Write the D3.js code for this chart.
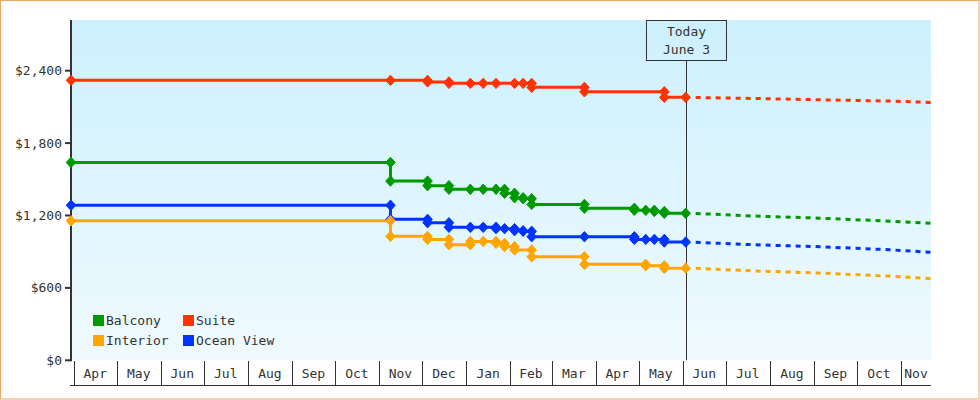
<!DOCTYPE html>
<html><head><meta charset="utf-8">
<script src="https://cdn.jsdelivr.net/npm/d3@7"></script>
<style>
html,body{margin:0;padding:0;background:#fff;}
svg{display:block;font-family:"DejaVu Sans Mono",monospace;}
</style></head><body>
<svg id="chart" width="980" height="400"></svg>
<script>
// ---- data ----
const seriesNames = ["Balcony", "Suite", "Interior", "Ocean View"];
const seriesColors = ["#009900", "#ff3300", "#ffa500", "#0033ff"];
const yTicks = [0, 600, 1200, 1800, 2400];
const todayDate = "2024-06-03";
const todayLabel = ["Today", "June 3"];

const balconyDates = ["2023-03-30","2023-11-09","2023-12-05","2023-12-20","2024-01-04","2024-01-13","2024-01-22","2024-01-28","2024-02-04","2024-02-10","2024-02-16","2024-03-24","2024-04-28","2024-05-06","2024-05-12","2024-05-19","2024-06-03"];
const balconyPrices = [1640,1485,1447,1417,1417,1417,1417,1384,1347,1339,1292,1260,1243,1243,1233,1218,1218];

const suiteDates = ["2023-03-30","2023-11-09","2023-12-05","2023-12-20","2024-01-04","2024-01-13","2024-01-22","2024-02-04","2024-02-10","2024-02-16","2024-03-24","2024-05-19","2024-06-03"];
const suitePrices = [2320,2320,2307,2295,2295,2295,2295,2295,2295,2262,2225,2179,2179];

const interiorDates = ["2023-03-30","2023-11-09","2023-12-05","2023-12-20","2024-01-04","2024-01-13","2024-01-22","2024-01-28","2024-02-04","2024-02-16","2024-03-24","2024-05-06","2024-05-19","2024-06-03"];
const interiorPrices = [1156,1027,1002,957,985,985,969,942,914,858,795,783,763,763];

const oceanDates = ["2023-03-30","2023-11-09","2023-12-05","2023-12-20","2024-01-04","2024-01-13","2024-01-22","2024-01-28","2024-02-04","2024-02-10","2024-02-16","2024-03-24","2024-04-28","2024-05-06","2024-05-12","2024-05-19","2024-06-03"];
const oceanPrices = [1285,1168,1140,1102,1102,1102,1091,1091,1074,1069,1024,1024,1002,1002,1002,980,980];

const forecastDates = ["2024-06-10","2024-07-20","2024-09-05","2024-10-24","2024-11-22"];
const balconyForecast = [1217,1196,1178,1153,1135];
const suiteForecast = [2178,2170,2159,2148,2137];
const interiorForecast = [762,741,723,698,676];
const oceanForecast = [978,958,941,916,895];

// ---- build ----
const parse = d3.utcParse("%Y-%m-%d");
const series = [
  {dates: balconyDates, prices: balconyPrices, fc: balconyForecast},
  {dates: suiteDates, prices: suitePrices, fc: suiteForecast},
  {dates: interiorDates, prices: interiorPrices, fc: interiorForecast},
  {dates: oceanDates, prices: oceanPrices, fc: oceanForecast}
].map((s, i) => ({
  name: seriesNames[i], color: seriesColors[i],
  pts: s.dates.map((d, j) => ({date: parse(d), v: s.prices[j]})),
  fcPts: forecastDates.map((d, j) => ({date: parse(d), v: s.fc[j]}))
}));

const svg = d3.select("#chart");
const pLeft = 71, pRight = 931, pTop = 20, pBottom = 360.3;
const x = d3.scaleUtc().domain([parse("2023-03-30"), parse("2024-11-22")]).range([pLeft, pRight]);
const y = d3.scaleLinear().domain([0, 2820]).range([pBottom, pTop]);

// outer border
svg.append("rect").attr("x", 0.5).attr("y", 0.5).attr("width", 978.5).attr("height", 398.5)
  .attr("fill", "#fff").attr("stroke", "#eaa862").attr("stroke-width", 1);

// background gradient
const defs = svg.append("defs");
const grad = defs.append("linearGradient").attr("id", "bg").attr("x1", 0).attr("y1", 0).attr("x2", 0).attr("y2", 1);
grad.append("stop").attr("offset", "0%").attr("stop-color", "#ccf0fd");
grad.append("stop").attr("offset", "100%").attr("stop-color", "#f0fafe");
defs.append("clipPath").attr("id", "clip").append("rect")
  .attr("x", pLeft).attr("y", pTop).attr("width", pRight - pLeft).attr("height", pBottom - pTop);
svg.append("rect").attr("x", pLeft).attr("y", pTop).attr("width", pRight - pLeft).attr("height", pBottom - pTop)
  .attr("fill", "url(#bg)");

// y axis
const axisColor = "#333";
svg.append("line").attr("x1", pLeft).attr("x2", pLeft).attr("y1", pTop).attr("y2", pBottom + 1)
  .attr("stroke", axisColor).attr("stroke-width", 2);
const yt = svg.append("g").selectAll("g").data(yTicks).join("g");
yt.append("line").attr("x1", 65).attr("x2", pLeft).attr("y1", d => y(d)).attr("y2", d => y(d))
  .attr("stroke", axisColor).attr("stroke-width", 2);
const fmt = d3.format("$,");
yt.append("text").attr("x", 62).attr("y", d => y(d)).attr("dy", "0.35em").attr("text-anchor", "end")
  .attr("font-size", 13).attr("fill", axisColor).text(d => fmt(d));

// x axis: month cells
const months = d3.utcMonth.range(d3.utcMonth.ceil(x.domain()[0]), x.domain()[1]);
const mfmt = d3.utcFormat("%b");
const xa = svg.append("g");
xa.append("line").attr("x1", 70).attr("x2", pRight).attr("y1", 385.5).attr("y2", 385.5)
  .attr("stroke", axisColor).attr("stroke-width", 1);
xa.selectAll("line.m").data(months).join("line").attr("class", "m")
  .attr("x1", d => Math.round(x(d)) + 0.5).attr("x2", d => Math.round(x(d)) + 0.5)
  .attr("y1", 361).attr("y2", 385.5).attr("stroke", axisColor).attr("stroke-width", 1);
xa.selectAll("text").data(months).join("text")
  .attr("x", d => (x(d) + Math.min(pRight, x(d3.utcMonth.offset(d, 1)))) / 2)
  .attr("y", 378).attr("text-anchor", "middle").attr("font-size", 13).attr("fill", axisColor)
  .text(d => mfmt(d));

// today marker
const tx = Math.round(x(parse(todayDate))) + 0.5;
svg.append("line").attr("x1", tx).attr("x2", tx).attr("y1", 61).attr("y2", pBottom)
  .attr("stroke", axisColor).attr("stroke-width", 1);
svg.append("rect").attr("x", 646.5).attr("y", 20.5).attr("width", 80).attr("height", 40)
  .attr("fill", "none").attr("stroke", axisColor).attr("stroke-width", 1);
svg.append("text").attr("x", tx).attr("y", 36).attr("text-anchor", "middle").attr("font-size", 13)
  .attr("fill", axisColor).text(todayLabel[0]);
svg.append("text").attr("x", tx).attr("y", 54).attr("text-anchor", "middle").attr("font-size", 13)
  .attr("fill", axisColor).text(todayLabel[1]);

// lines
const plot = svg.append("g").attr("clip-path", "url(#clip)");
const line = d3.line().x(d => x(d.date)).y(d => y(d.v)).curve(d3.curveStepAfter);
const fline = d3.line().x(d => x(d.date)).y(d => y(d.v));
const diamond = "M0,-5.2L4.8,0L0,5.2L-4.8,0Z";
const order = [1, 0, 3, 2];
order.forEach(i => {
  const s = series[i];
  plot.append("path").attr("d", fline(s.fcPts)).attr("fill", "none").attr("stroke", s.color)
    .attr("stroke-width", 3).attr("stroke-dasharray", "5,5");
});
order.forEach(i => {
  const s = series[i];
  plot.append("path").attr("d", line(s.pts)).attr("fill", "none").attr("stroke", s.color)
    .attr("stroke-width", 3);
  const marks = [];
  s.pts.forEach((p, j) => {
    if (j > 0 && s.pts[j - 1].v !== p.v) marks.push({date: p.date, v: s.pts[j - 1].v});
    marks.push(p);
  });
  svg.append("g").selectAll("path").data(marks).join("path")
    .attr("d", diamond).attr("fill", s.color).attr("stroke", s.color).attr("stroke-width", 1)
    .attr("stroke-linejoin", "round")
    .attr("transform", d => `translate(${x(d.date)},${y(d.v)})`);
});

// legend
const legendPos = [[93, 315], [183, 315], [93, 335], [183, 335]];
const lg = svg.append("g").selectAll("g").data(series).join("g")
  .attr("transform", (d, i) => `translate(${legendPos[i][0]},${legendPos[i][1]})`);
lg.append("rect").attr("width", 11).attr("height", 11).attr("fill", d => d.color);
lg.append("text").attr("x", 13).attr("y", 10).attr("font-size", 13).attr("fill", axisColor).text(d => d.name);
</script>
</body></html>
